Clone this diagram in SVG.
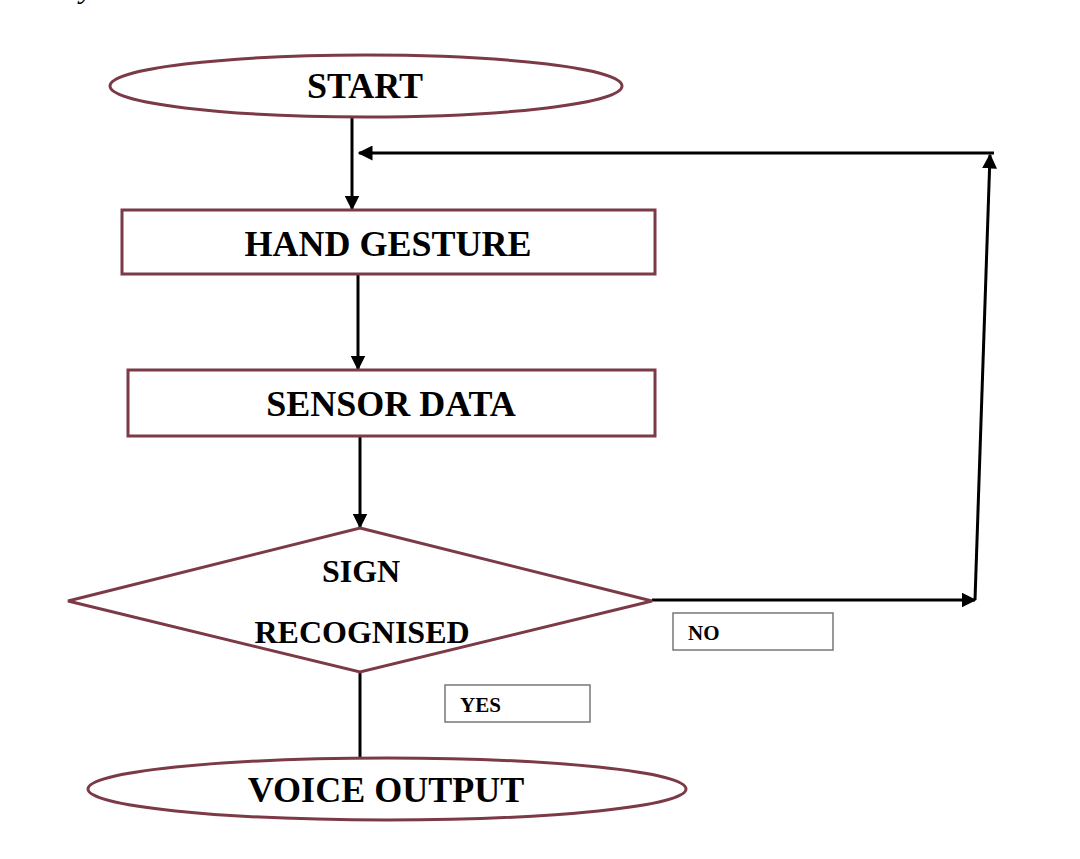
<svg xmlns="http://www.w3.org/2000/svg" width="1080" height="859" viewBox="0 0 1080 859">
<defs>
<style>
.shape{fill:#fff;stroke:#7b3a46;stroke-width:3}
.lbl{fill:#fff;stroke:#777;stroke-width:1.5}
.conn{fill:none;stroke:#000;stroke-width:3}
.t{font-family:"Liberation Serif","Times New Roman",serif;font-weight:bold;fill:#000;text-anchor:middle}
.big{font-size:36px}
.mid{font-size:32px}
.small{font-size:21px;text-anchor:start}
</style>
<marker id="ah" viewBox="0 0 10 10" refX="9" refY="5" markerWidth="5" markerHeight="5" orient="auto" markerUnits="strokeWidth">
<path d="M0,0 L10,5 L0,10 z" fill="#000"/>
</marker>
</defs>
<rect width="1080" height="859" fill="#fff"/>
<text x="80" y="-2" font-family="Liberation Serif, serif" font-style="italic" font-size="30" fill="#000">y</text>
<g id="connectors">
<line class="conn" x1="352" y1="118" x2="352" y2="209" marker-end="url(#ah)"/>
<line class="conn" x1="358" y1="275" x2="358" y2="369" marker-end="url(#ah)"/>
<line class="conn" x1="360" y1="437" x2="360" y2="527" marker-end="url(#ah)"/>
<line class="conn" x1="652" y1="600" x2="975" y2="600" marker-end="url(#ah)"/>
<line class="conn" x1="975" y1="600" x2="990" y2="155" marker-end="url(#ah)"/>
<line class="conn" x1="994" y1="153" x2="359" y2="153" marker-end="url(#ah)"/>
<line class="conn" x1="360" y1="672" x2="360" y2="757"/>
</g>
<g id="start">
<ellipse class="shape" cx="366" cy="86" rx="256" ry="31"/>
<text class="t big" x="365" y="98">START</text>
</g>
<g id="hand-gesture">
<rect class="shape" x="122" y="210" width="533" height="64"/>
<text class="t big" x="388" y="256">HAND GESTURE</text>
</g>
<g id="sensor-data">
<rect class="shape" x="128" y="370" width="527" height="66"/>
<text class="t big" x="391" y="416">SENSOR DATA</text>
</g>
<g id="decision">
<polygon class="shape" points="360,528 652,601 360,672 68,601"/>
<text class="t mid" x="361" y="582">SIGN</text>
<text class="t mid" x="362" y="643">RECOGNISED</text>
</g>
<g id="no-label">
<rect class="lbl" x="673" y="613" width="160" height="37"/>
<text class="t small" x="688" y="640">NO</text>
</g>
<g id="yes-label">
<rect class="lbl" x="445" y="685" width="145" height="37"/>
<text class="t small" x="460" y="712">YES</text>
</g>
<g id="voice-output">
<ellipse class="shape" cx="387" cy="789" rx="299" ry="31"/>
<text class="t big" x="386" y="802">VOICE OUTPUT</text>
</g>
</svg>
